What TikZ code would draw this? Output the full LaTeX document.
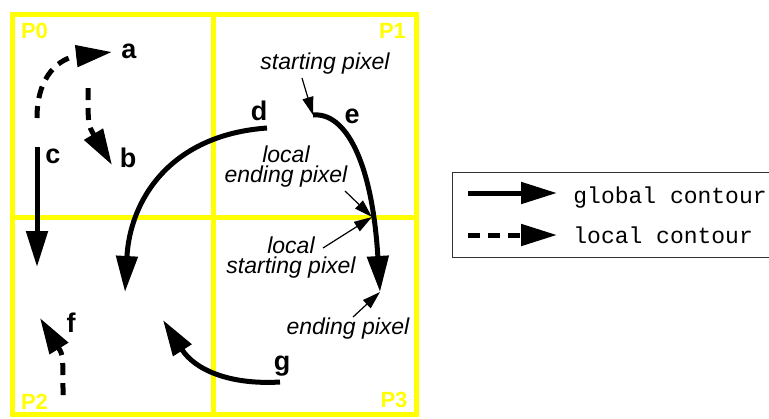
\documentclass[tikz,border=0pt]{standalone}
\usepackage{fontspec}
\setmainfont{Liberation Sans}
\setmonofont{Liberation Mono}
\usetikzlibrary{arrows.meta}
\definecolor{partyellow}{RGB}{255,255,0}
\tikzset{
	global/.style={line width=2.5pt, -{Triangle[length=18pt,width=10.5pt]}},
	local/.style={global, dash pattern=on 6pt off 4pt},
	pointer/.style={line width=0.6pt, -{Triangle[length=9pt,width=5.5pt]}},
	note/.style={font=\fontsize{11.5}{10}\selectfont\itshape, align=center, inner sep=0pt},
	letter/.style={font=\fontsize{13.5}{14}\selectfont\bfseries, anchor=base, inner sep=0pt},
	partname/.style={font=\fontsize{11}{12}\selectfont\bfseries, text=partyellow, anchor=base, inner sep=0pt},
	legendtext/.style={font=\fontsize{11.5}{12}\selectfont\ttfamily, anchor=base west, inner sep=0pt}
}
\begin{document}
\begin{tikzpicture}[x=0.5pt,y=-0.5pt]
	\useasboundingbox (0,0) rectangle (769,418);
	% the four parts
	\draw[partyellow, line width=2.5pt] (12,14.5) rectangle (416.5,414.5)
		(213.5,14.5) -- (213.5,414.5) (12,217.5) -- (416.5,217.5);
	\node[partname] (p0) at (34.5,38)  {P0};
	\node[partname] (p1) at (392.5,38) {P1};
	\node[partname] (p2) at (34.5,409) {P2};
	\node[partname] (p3) at (394,407)  {P3};

	% contour pieces
	\coordinate (a0) at (37,118);  \coordinate (a1) at (112,52);
	\coordinate (b0) at (88,88);   \coordinate (b1) at (112,165);
	\coordinate (c0) at (37,147);  \coordinate (c1) at (37,267);
	\coordinate (d0) at (267,128); \coordinate (d1) at (125,292);
	\coordinate (e0) at (313,115); \coordinate (e1) at (380,292);
	\coordinate (f0) at (63,395);  \coordinate (f1) at (40,318);
	\coordinate (g0) at (280,382); \coordinate (g1) at (163,320);
	\coordinate (cross) at (372,217);

	\draw[local]  (a0) .. controls (37,75) and (60,58) .. (a1);
	\draw[local]  (b0) .. controls (88,125) .. (b1);
	\draw[global] (c0) -- (c1);
	\draw[global] (d0) .. controls (170,135) and (130,200) .. (d1);
	\draw[global] (e0) .. controls (345,112) and (372,160) .. (e1);
	\draw[local]  (f0) .. controls (63,355) .. (f1);
	\draw[global] (g0) .. controls (230,385) and (195,370) .. (g1);

	\node[letter] (la) at (129,58)  {a};
	\node[letter] (lb) at (128,167) {b};
	\node[letter] (lc) at (53,163)  {c};
	\node[letter] (ld) at (259,120) {d};
	\node[letter] (le) at (352,123) {e};
	\node[letter] (lf) at (71,332)  {f};
	\node[letter] (lg) at (282,370) {g};

	% pixel notes
	\node[note] (sp)  at (325,64)  {starting pixel};
	\node[note] (lep) at (286,167) {local\\ending pixel};
	\node[note] (lsp) at (291,258) {local\\starting pixel};
	\node[note] (ep)  at (348,329) {ending pixel};
	\coordinate (sp0)  at (302,78);
	\coordinate (lep0) at (345,191);
	\coordinate (lsp0) at (323,248);
	\coordinate (ep0)  at (353,317);
	\draw[pointer] (sp0)  -- (e0);
	\draw[pointer] (lep0) -- (cross);
	\draw[pointer] (lsp0) -- (cross);
	\draw[pointer] (ep0)  -- (e1);

	% legend
	\draw[line width=0.5pt, black!80] (452,172) rectangle (772,257);
	\coordinate (gl0) at (468,193); \coordinate (gl1) at (557,193);
	\coordinate (ll0) at (468,235); \coordinate (ll1) at (557,235);
	\draw[global] (gl0) -- (gl1);
	\draw[local]  (ll0) -- (ll1);
	\node[legendtext] (gt) at (573,203) {global contour};
	\node[legendtext] (lt) at (573,243) {local contour};
\end{tikzpicture}
\end{document}
